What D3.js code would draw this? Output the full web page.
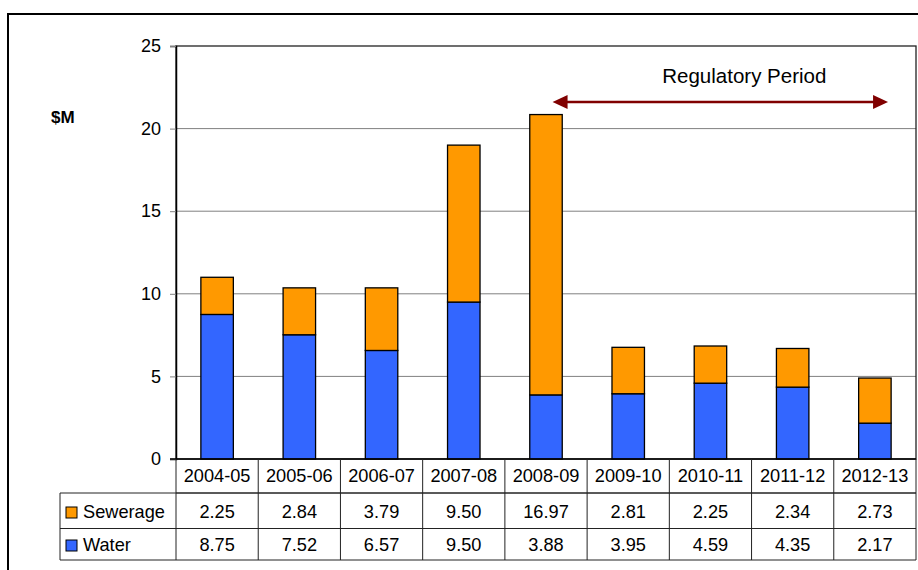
<!DOCTYPE html>
<html>
<head>
<meta charset="utf-8">
<script src="https://cdn.jsdelivr.net/npm/d3@7"></script>
<style>
  html, body { margin: 0; padding: 0; background: #fff; }
  svg { display: block; font-family: "Liberation Sans", Arial, sans-serif; }
</style>
</head>
<body>
<svg id="chart" width="918" height="570"></svg>
<script>
// Capital expenditure by financial year, $M
const categories = ["2004-05", "2005-06", "2006-07", "2007-08", "2008-09",
                    "2009-10", "2010-11", "2011-12", "2012-13"];
const sewerage = [2.25, 2.84, 3.79, 9.50, 16.97, 2.81, 2.25, 2.34, 2.73];
const water    = [8.75, 7.52, 6.57, 9.50, 3.88, 3.95, 4.59, 4.35, 2.17];
const yTicks = [0, 5, 10, 15, 20, 25];
const seriesNames = ["Sewerage", "Water"];
const periodStart = "2008-09";
const periodEnd = "2012-13";

const colors = { Sewerage: "#FF9900", Water: "#3366FF" };

const svg = d3.select("#chart");

// outer frame
svg.append("rect")
  .attr("x", 8).attr("y", 14).attr("width", 920).attr("height", 570)
  .attr("fill", "none").attr("stroke", "#000").attr("stroke-width", 2);

const plot = { left: 176, right: 916, top: 46, bottom: 459 };

const x = d3.scaleBand().domain(categories).range([plot.left, plot.right]).paddingInner(0).paddingOuter(0);
const y = d3.scaleLinear().domain([0, 25]).range([plot.bottom, plot.top]);

// gridlines
svg.append("g").selectAll("line").data(yTicks.filter(t => t > 0 && t < 25)).join("line")
  .attr("x1", plot.left).attr("x2", plot.right)
  .attr("y1", d => y(d)).attr("y2", d => y(d))
  .attr("stroke", "#808080").attr("stroke-width", 1);

// plot area border
svg.append("rect")
  .attr("x", plot.left).attr("y", plot.top)
  .attr("width", plot.right - plot.left).attr("height", plot.bottom - plot.top)
  .attr("fill", "none").attr("stroke", "#222").attr("stroke-width", 1.3);

// y axis
const yAxis = d3.axisLeft(y).tickValues(yTicks).tickSize(6).tickPadding(9).tickFormat(d3.format("d"));
const yg = svg.append("g").attr("transform", `translate(${plot.left},0)`).call(yAxis);
yg.select(".domain").attr("stroke", "#000").attr("stroke-width", 1.5);
yg.selectAll(".tick line").attr("stroke", "#808080");
yg.selectAll(".tick text").attr("font-size", 18).attr("fill", "#000")
  .attr("font-family", "Liberation Sans, Arial, sans-serif");

// stacked bars
const rows = categories.map((c, i) => ({ cat: c, Water: water[i], Sewerage: sewerage[i] }));
const stack = d3.stack().keys(["Water", "Sewerage"])(rows);
const barW = x.bandwidth() * 0.395;

svg.append("g").selectAll("g").data(stack).join("g")
  .attr("fill", d => colors[d.key])
  .selectAll("rect").data(d => d).join("rect")
  .attr("x", d => x(d.data.cat) + (x.bandwidth() - barW) / 2)
  .attr("width", barW)
  .attr("y", d => y(d[1]))
  .attr("height", d => y(d[0]) - y(d[1]))
  .attr("stroke", "#000").attr("stroke-width", 1.3);

// baseline
svg.append("line")
  .attr("x1", plot.left - 6).attr("x2", plot.right)
  .attr("y1", plot.bottom).attr("y2", plot.bottom)
  .attr("stroke", "#000").attr("stroke-width", 1.5);

// "$M" unit label
svg.append("text").attr("x", 51).attr("y", 123)
  .attr("font-size", 17).attr("font-weight", "bold").text("$M");

// Regulatory period arrow
const ax1 = x(periodStart) + x.bandwidth() * 0.58;
const ax2 = x(periodEnd) + x.bandwidth() * 0.66;
const ay = 102;
const arrowColor = "#800000";
svg.append("line")
  .attr("x1", ax1 + 10).attr("x2", ax2 - 10).attr("y1", ay).attr("y2", ay)
  .attr("stroke", arrowColor).attr("stroke-width", 2.5);
svg.append("path")
  .attr("d", `M${ax1},${ay} L${ax1 + 15},${ay - 7} L${ax1 + 15},${ay + 7} Z`)
  .attr("fill", arrowColor);
svg.append("path")
  .attr("d", `M${ax2},${ay} L${ax2 - 15},${ay - 7} L${ax2 - 15},${ay + 7} Z`)
  .attr("fill", arrowColor);
svg.append("text")
  .attr("x", (ax1 + ax2) / 2 + 24).attr("y", 83)
  .attr("text-anchor", "middle").attr("font-size", 20.5)
  .text("Regulatory Period");

// data table below the axis
const tbl = { left: 60, header: plot.bottom, r1: 493, r2: 528.5, bottom: 560 };
const tg = svg.append("g");
const lineColor = "#222";

// horizontal rules
[[plot.left, tbl.r1], [tbl.left, tbl.r1], [tbl.left, tbl.r2], [tbl.left, tbl.bottom]].forEach(([x0, yy]) => {
  tg.append("line").attr("x1", x0).attr("x2", plot.right)
    .attr("y1", yy).attr("y2", yy).attr("stroke", lineColor).attr("stroke-width", 1);
});
// vertical rules
tg.append("line").attr("x1", tbl.left).attr("x2", tbl.left)
  .attr("y1", tbl.r1).attr("y2", tbl.bottom).attr("stroke", lineColor);
const bounds = categories.map(c => x(c)).concat([plot.right]);
tg.selectAll("line.v").data(bounds).join("line").attr("class", "v")
  .attr("x1", d => d).attr("x2", d => d)
  .attr("y1", tbl.header).attr("y2", tbl.bottom)
  .attr("stroke", lineColor).attr("stroke-width", 1);

// header cells (categories)
tg.selectAll("text.cat").data(categories).join("text").attr("class", "cat")
  .attr("x", d => x(d) + x.bandwidth() / 2).attr("y", 482)
  .attr("text-anchor", "middle").attr("font-size", 18.2).text(d => d);

// value rows
const fmt = d3.format(".2f");
const tableRows = [
  { name: seriesNames[0], values: sewerage, base: 518, top: tbl.r1 },
  { name: seriesNames[1], values: water, base: 551, top: tbl.r2 }
];
tableRows.forEach(r => {
  tg.selectAll(null).data(r.values).join("text")
    .attr("x", (d, i) => x(categories[i]) + x.bandwidth() / 2).attr("y", r.base)
    .attr("text-anchor", "middle").attr("font-size", 18.2).text(d => fmt(d));
  const sy = r.base - 11;
  tg.append("rect").attr("x", 66).attr("y", sy).attr("width", 11).attr("height", 11)
    .attr("fill", colors[r.name]).attr("stroke", "#000").attr("stroke-width", 1);
  tg.append("text").attr("x", 83).attr("y", r.base)
    .attr("font-size", 18.2).text(r.name);
});
</script>
</body>
</html>
